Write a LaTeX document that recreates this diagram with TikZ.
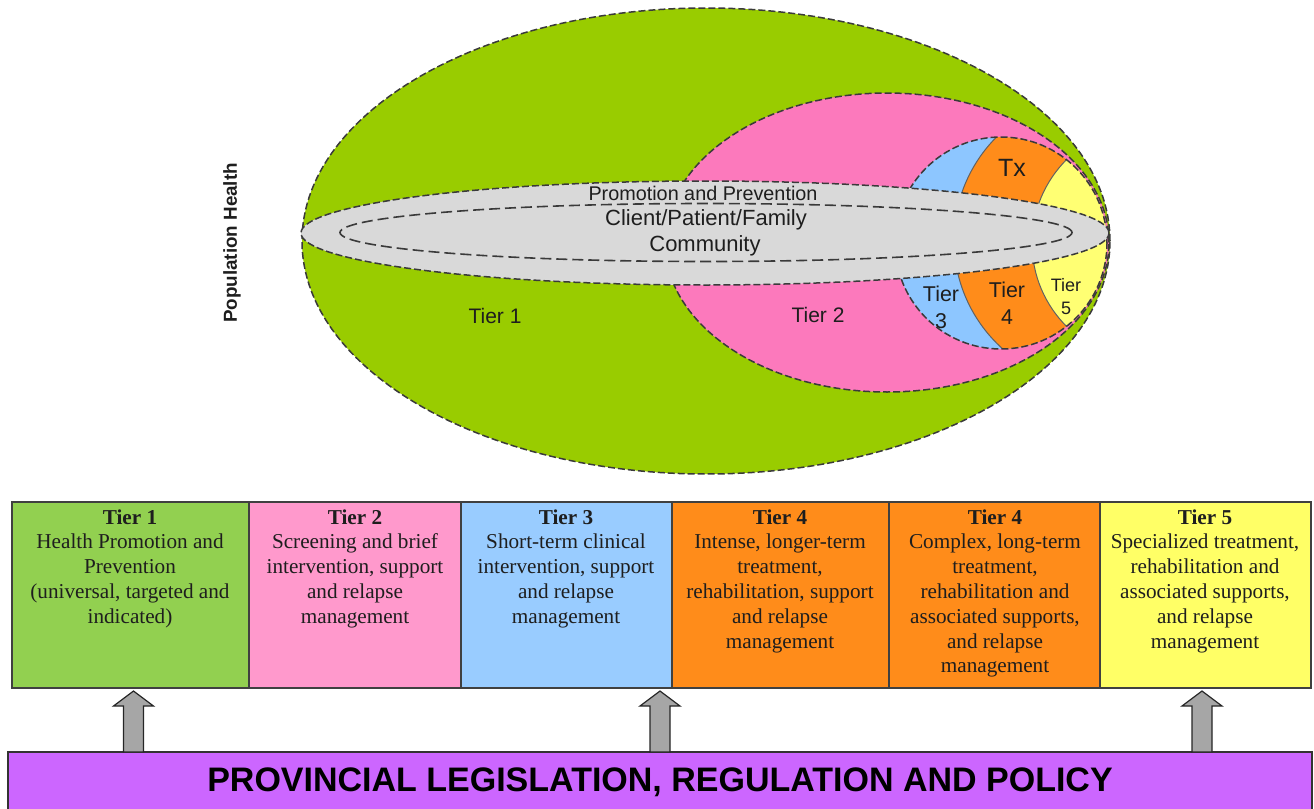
\documentclass[tikz,border=0pt]{standalone}
\usepackage{fontspec}
\setmainfont{Liberation Sans}
\newfontfamily\boxserif{Liberation Serif}
\usetikzlibrary{calc}
\definecolor{ellgreen}{HTML}{99CC00}
\definecolor{ellpink}{HTML}{FC79BC}
\definecolor{tblue}{HTML}{8DC6FF}
\definecolor{torange}{HTML}{FF8C1A}
\definecolor{tyellow}{HTML}{FFFF73}
\definecolor{lgray}{HTML}{D9D9D9}
\definecolor{dashc}{HTML}{3A3A3A}
\definecolor{bgreen}{HTML}{92D050}
\definecolor{bpink}{HTML}{FF99CC}
\definecolor{bblue}{HTML}{99CCFF}
\definecolor{borange}{HTML}{FF8C1A}
\definecolor{byellow}{HTML}{FFFF66}
\definecolor{bpurple}{HTML}{CC66FF}
\definecolor{agray}{HTML}{A6A6A6}
\definecolor{boxedge}{HTML}{404040}
\definecolor{txt}{HTML}{1E1E1E}
\begin{document}
\begin{tikzpicture}[x=0.5pt,y=-0.5pt,
  dashedge/.style={draw=dashc, line width=0.75pt, dash pattern=on 3.5pt off 1.5pt},
  innerdash/.style={draw=dashc, line width=0.8pt, dash pattern=on 5.5pt off 2.5pt},
  sepline/.style={draw=dashc!80, line width=0.5pt},
  lbl/.style={inner sep=0pt, text=txt, font=\fontsize{10.5}{12}\selectfont},
  tierbox/.style={draw=boxedge, line width=0.8pt},
  boxtext/.style={font=\boxserif\fontsize{10.6}{12.4}\selectfont, align=center, anchor=north, inner sep=0pt, text=txt},
  blockarrow/.style={fill=agray, draw=black!85, line width=0.6pt, line join=miter}
]
\useasboundingbox (0,0) rectangle (1314,809);

% outer population ellipse (Tier 1)
\fill[ellgreen] (706,241) ellipse [x radius=202pt, y radius=116.5pt];
\draw[dashedge] (706,241) ellipse [x radius=202pt, y radius=116.5pt];

% Tier 2 ellipse
\fill[ellpink] (887,242.5) ellipse [x radius=111pt, y radius=74.75pt];
\draw[dashedge] (887,242.5) ellipse [x radius=111pt, y radius=74.75pt];

% Tier 3/4/5 circle
\begin{scope}
  \clip (1001,243) circle [radius=53pt];
  \fill[tblue] (1001,243) circle [radius=53pt];
  \fill[torange] (1100,240) circle [radius=73pt];
  \draw[sepline] (1100,240) circle [radius=73pt];
  \fill[tyellow] (1150,243) circle [radius=59pt];
  \draw[sepline] (1150,243) circle [radius=59pt];
\end{scope}
\draw[dashedge] (1001,243) circle [radius=53pt];

% promotion band
\fill[lgray] (705,233) ellipse [x radius=202pt, y radius=26pt];
\draw[dashedge] (705,233) ellipse [x radius=202pt, y radius=26pt];
\draw[innerdash] (706,232.5) ellipse [x radius=183pt, y radius=14.5pt];

% labels in the ellipse
\node[lbl, font=\fontsize{9.9}{11}\selectfont] (promo) at (703,193) {Promotion and Prevention};
\node[lbl, font=\fontsize{11}{12}\selectfont] (client) at (706,220) {Client/Patient/Family};
\node[lbl, font=\fontsize{11}{12}\selectfont] (comm) at (705,246) {Community};
\node[lbl] (tier1) at (495,316) {Tier 1};
\node[lbl] (tier2) at (818,315) {Tier 2};
\node[lbl, align=center, font=\fontsize{10.7}{13.5}\selectfont] (tier3) at (941,307) {Tier\\3};
\node[lbl, align=center, font=\fontsize{10.7}{13.5}\selectfont] (tier4) at (1007,303.5) {Tier\\4};
\node[lbl, align=center, font=\fontsize{9}{11.5}\selectfont] (tier5) at (1066,296.5) {Tier\\5};
\node[lbl, font=\fontsize{12.5}{14}\selectfont] (tx) at (1012,168) {Tx};
\node[lbl, rotate=90, font=\bfseries\fontsize{9.4}{11}\selectfont] (pop) at (232,243) {Population Health};

% bottom bar
\draw[fill=bpurple, draw=black!80, line width=0.8pt] (8,752) rectangle (1312,815);
\node[inner sep=0pt, font=\bfseries\fontsize{17}{20}\selectfont] (bar) at (660,782) {PROVINCIAL LEGISLATION, REGULATION AND POLICY};

% block arrows
\foreach \cx/\nm in {133.5/a1, 660/a2, 1202/a3}{
  \draw[blockarrow] (\cx,691) -- (\cx+20,706) -- (\cx+10,706) -- (\cx+10,752)
     -- (\cx-10,752) -- (\cx-10,706) -- (\cx-20,706) -- cycle;
}

% tier boxes
\draw[tierbox, fill=bgreen] (12,502) rectangle (249,688);
\draw[tierbox, fill=bpink] (249,502) rectangle (461,688);
\draw[tierbox, fill=bblue] (461,502) rectangle (672,688);
\draw[tierbox, fill=borange] (672,502) rectangle (889,688);
\draw[tierbox, fill=borange] (889,502) rectangle (1100,688);
\draw[tierbox, fill=byellow] (1100,502) rectangle (1311,688);

\node[boxtext] (d1) at (130,509) {\textbf{Tier 1}\\Health Promotion and\\Prevention\\(universal, targeted and\\indicated)};
\node[boxtext] (d2) at (355,509) {\textbf{Tier 2}\\Screening and brief\\intervention, support\\and relapse\\management};
\node[boxtext] (d3) at (566,509) {\textbf{Tier 3}\\Short-term clinical\\intervention, support\\and relapse\\management};
\node[boxtext] (d4) at (780,509) {\textbf{Tier 4}\\Intense, longer-term\\treatment,\\rehabilitation, support\\and relapse\\management};
\node[boxtext] (d5) at (995,509) {\textbf{Tier 4}\\Complex, long-term\\treatment,\\rehabilitation and\\associated supports,\\and relapse\\management};
\node[boxtext] (d6) at (1205,509) {\textbf{Tier 5}\\Specialized treatment,\\rehabilitation and\\associated supports,\\and relapse\\management};
\end{tikzpicture}
\end{document}
